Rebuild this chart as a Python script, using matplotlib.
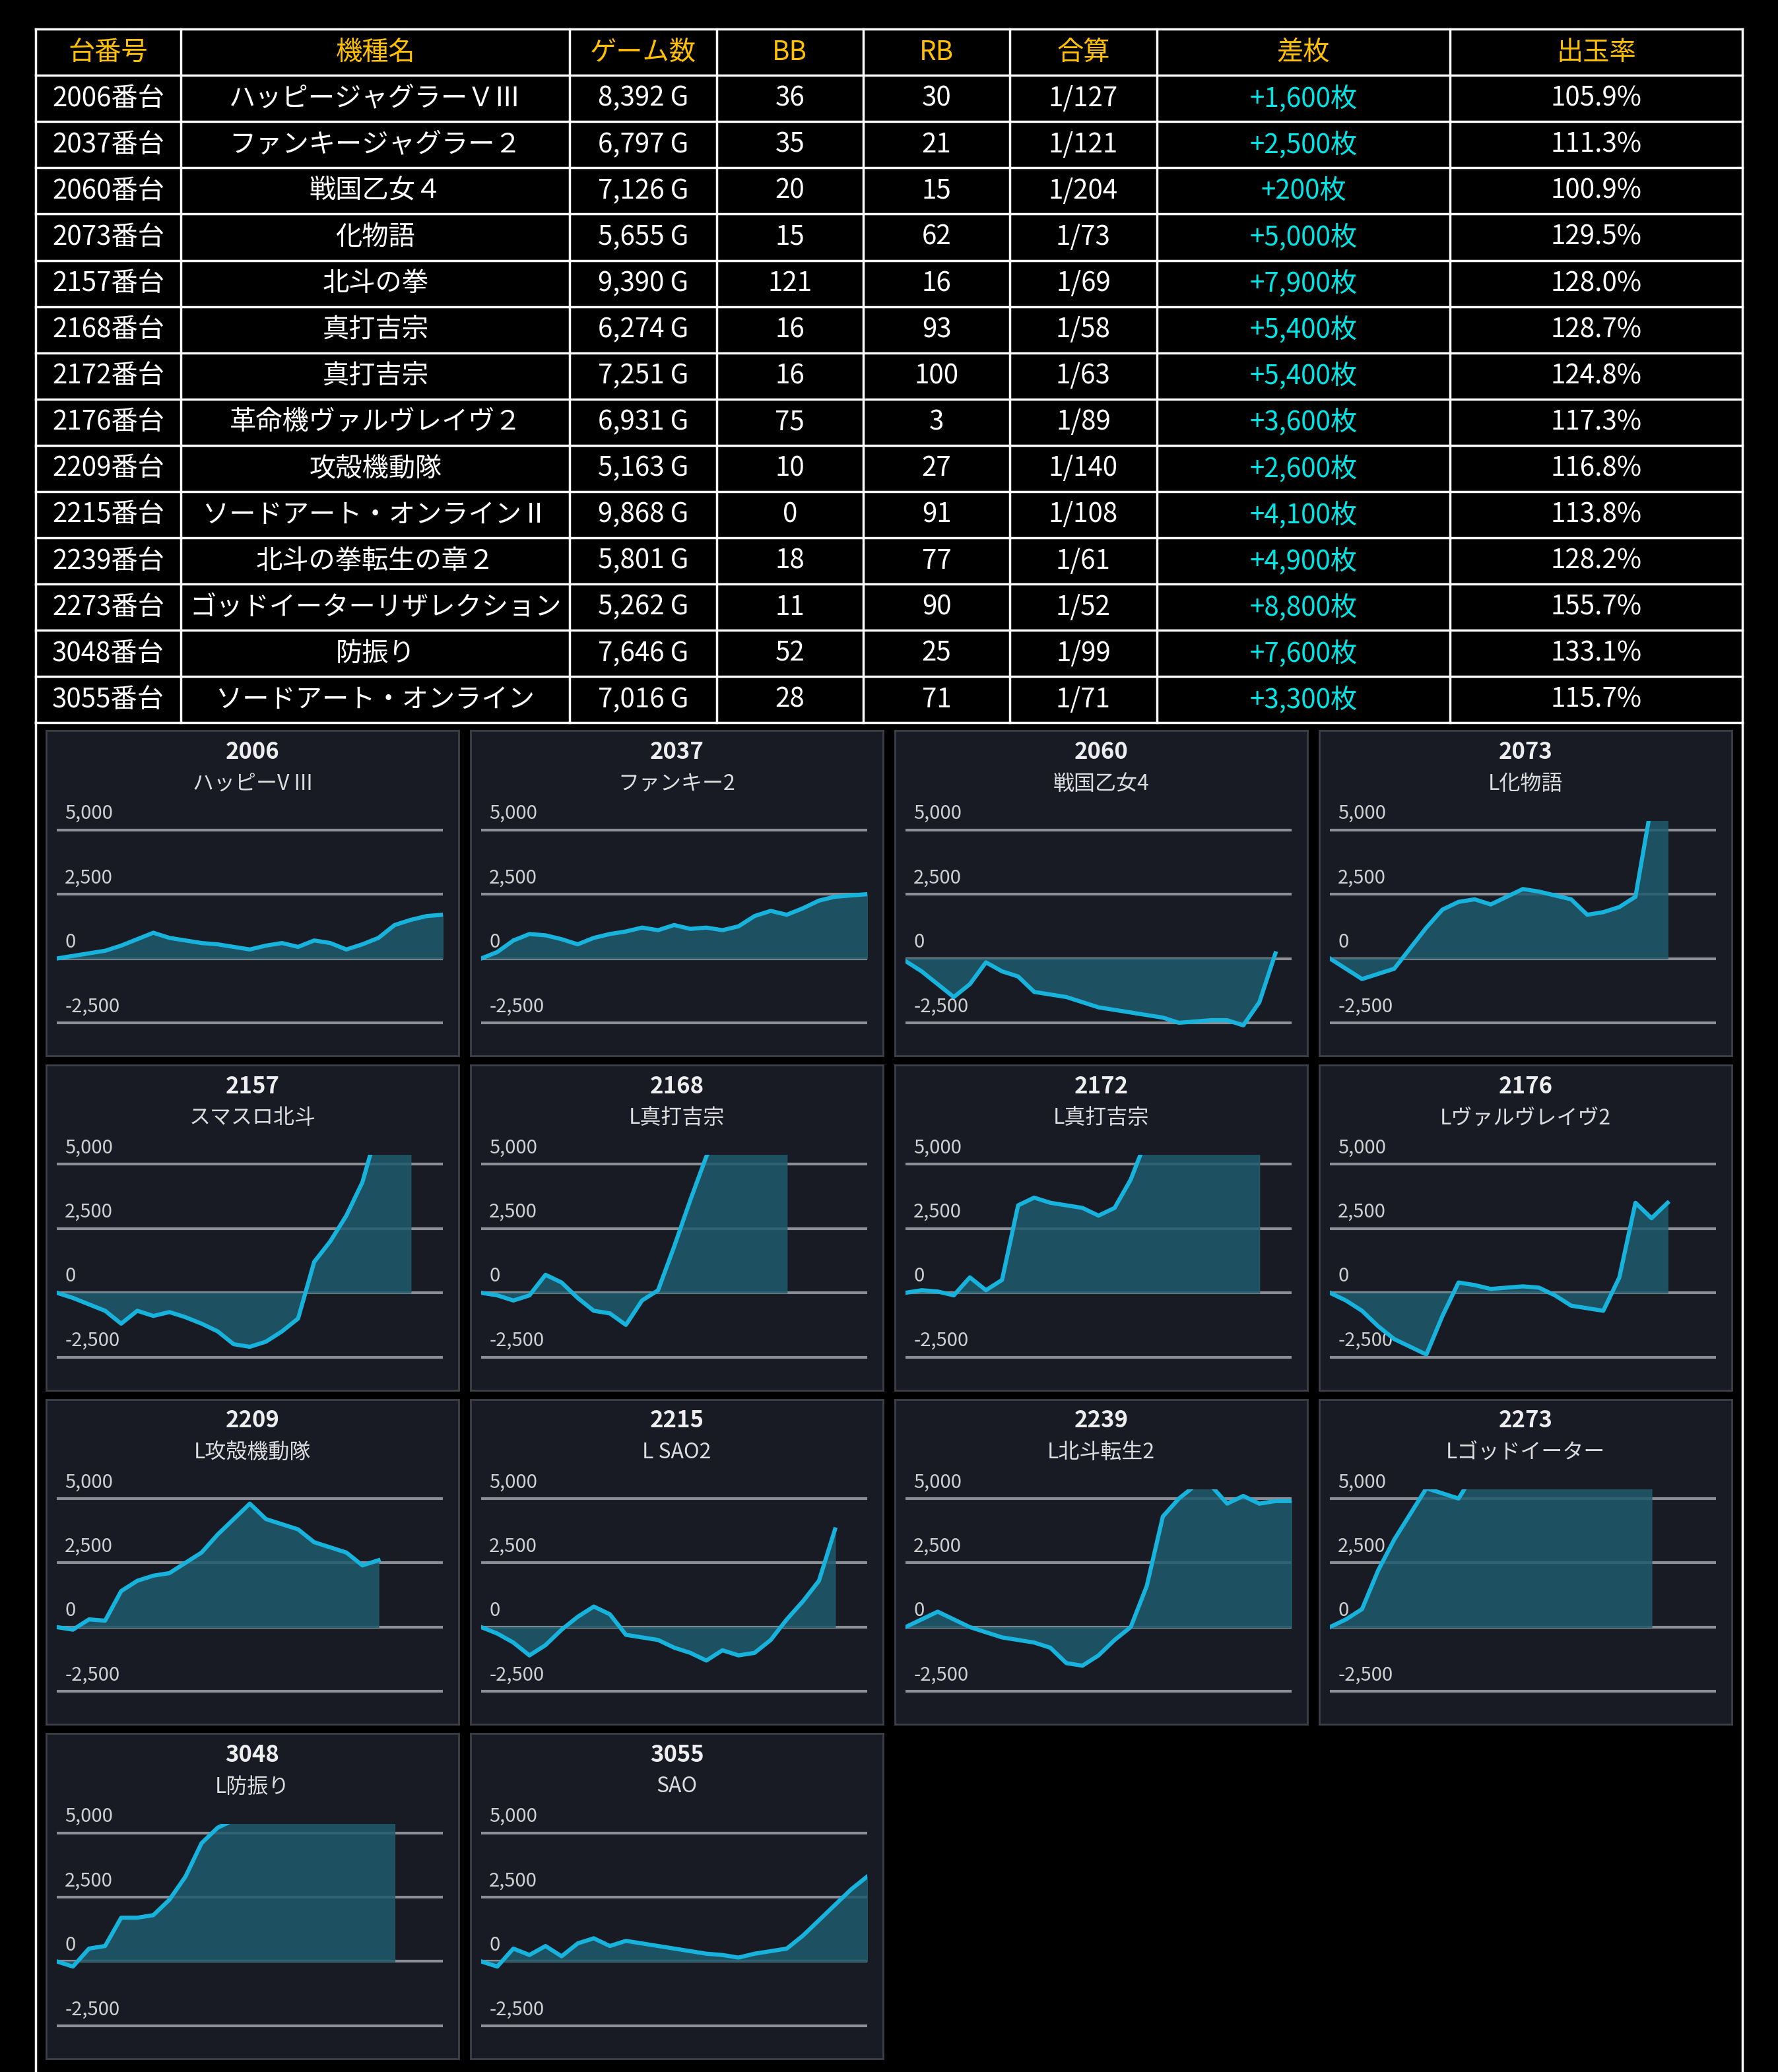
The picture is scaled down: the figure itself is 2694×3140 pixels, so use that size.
"""Slot machine daily result table and per-unit balance charts."""

import matplotlib

matplotlib.use("Agg")
import matplotlib.pyplot as plt  # noqa: E402

plt.rcParams["font.family"] = ["Noto Sans CJK JP", "DejaVu Sans"]

HEADERS = ["台番号", "機種名", "ゲーム数", "BB", "RB", "合算", "差枚", "出玉率"]
UNITS = ["2006", "2037", "2060", "2073", "2157", "2168", "2172", "2176",
         "2209", "2215", "2239", "2273", "3048", "3055"]
MACHINES = ["ハッピージャグラーＶⅢ", "ファンキージャグラー２", "戦国乙女４", "化物語",
            "北斗の拳", "真打吉宗", "真打吉宗", "革命機ヴァルヴレイヴ２", "攻殻機動隊",
            "ソードアート・オンラインⅡ", "北斗の拳転生の章２", "ゴッドイーターリザレクション",
            "防振り", "ソードアート・オンライン"]
GAMES = [8392, 6797, 7126, 5655, 9390, 6274, 7251, 6931, 5163, 9868, 5801, 5262, 7646, 7016]
BB = [36, 35, 20, 15, 121, 16, 16, 75, 10, 0, 18, 11, 52, 28]
RB = [30, 21, 15, 62, 16, 93, 100, 3, 27, 91, 77, 90, 25, 71]
COMBINED = ["1/127", "1/121", "1/204", "1/73", "1/69", "1/58", "1/63", "1/89",
            "1/140", "1/108", "1/61", "1/52", "1/99", "1/71"]
DIFF = [1600, 2500, 200, 5000, 7900, 5400, 5400, 3600, 2600, 4100, 4900, 8800, 7600, 3300]
RATE = [105.9, 111.3, 100.9, 129.5, 128.0, 128.7, 124.8, 117.3, 116.8, 113.8, 128.2,
        155.7, 133.1, 115.7]

SHORT_NAMES = ["ハッピーV III", "ファンキー2", "戦国乙女4", "L化物語", "スマスロ北斗",
               "L真打吉宗", "L真打吉宗", "Lヴァルヴレイヴ2", "L攻殻機動隊", "L SAO2",
               "L北斗転生2", "Lゴッドイーター", "L防振り", "SAO"]
SERIES = [
    [0, 100, 200, 300, 500, 750, 1000, 800, 700, 600, 550, 450, 350, 500, 600, 450,
     700, 600, 350, 550, 800, 1300, 1500, 1650, 1700],
    [0, 250, 700, 950, 900, 750, 550, 800, 950, 1050, 1200, 1100, 1300, 1150, 1200,
     1100, 1250, 1650, 1850, 1700, 1950, 2250, 2400, 2450, 2500],
    [-100, -500, -1000, -1500, -1000, -150, -500, -700, -1300, -1400, -1500, -1700,
     -1900, -2000, -2100, -2200, -2300, -2500, -2450, -2400, -2400, -2600, -1700, 200],
    [0, -400, -800, -600, -400, 400, 1200, 1900, 2200, 2300, 2100, 2400, 2700, 2600,
     2450, 2300, 1700, 1800, 2000, 2400, 6000, 6000],
    [0, -200, -450, -700, -1200, -700, -900, -750, -950, -1200, -1500, -2000, -2100,
     -1900, -1500, -1000, 1200, 2000, 3000, 4300, 6500, 6500, 6500],
    [0, -100, -300, -100, 700, 400, -200, -700, -800, -1250, -300, 100, 1800, 3600,
     5300, 6500, 6500, 6500, 6500, 6500],
    [0, 100, 50, -100, 600, 100, 500, 3400, 3700, 3500, 3400, 3300, 3000, 3300, 4400,
     6000, 6000, 6000, 6000, 6000, 6000, 6000, 6000],
    [0, -300, -700, -1300, -1800, -2100, -2400, -900, 400, 300, 150, 200, 250, 200,
     -100, -500, -600, -700, 600, 3500, 2900, 3500],
    [0, -100, 300, 250, 1400, 1800, 2000, 2100, 2500, 2900, 3600, 4200, 4800, 4200,
     4000, 3800, 3300, 3100, 2900, 2400, 2600],
    [0, -250, -600, -1100, -700, -100, 400, 800, 500, -300, -400, -500, -800, -1000,
     -1300, -900, -1100, -1000, -500, 300, 1000, 1800, 3800],
    [0, 300, 600, 300, 0, -200, -400, -500, -600, -800, -1400, -1500, -1100, -500, 0,
     1600, 4300, 5000, 5500, 5500, 4800, 5100, 4800, 4900, 4900],
    [0, 300, 700, 2200, 3400, 4400, 5400, 5200, 5000, 6000, 6000, 6000, 6000, 6000,
     6000, 6000, 6000, 6000, 6000, 6000, 6000],
    [0, -200, 500, 600, 1700, 1700, 1800, 2400, 3300, 4600, 5200, 5500, 6000, 6000,
     6000, 6000, 6000, 6000, 6000, 6000, 6000, 6000],
    [0, -200, 500, 250, 600, 200, 700, 900, 600, 800, 700, 600, 500, 400, 300, 250,
     150, 300, 400, 500, 1000, 1600, 2200, 2800, 3300],
]
TICKS = [5000, 2500, 0, -2500]

W, H = 1345, 1568  # layout units (half of output pixels)
COL_X = [27, 137, 431, 542, 653, 764, 875, 1097, 1318]
ROW_TOP, ROW_H = 22, 35


def draw_table(ax):
    """Draw the result table with white grid lines."""
    n = len(UNITS)
    bottom = ROW_TOP + ROW_H * (n + 1)
    for x in COL_X:
        ax.plot([x, x], [ROW_TOP, bottom], color="white", lw=2.5)
    for i in range(n + 2):
        y = ROW_TOP + ROW_H * i
        ax.plot([COL_X[0], COL_X[-1]], [y, y], color="white", lw=2.5)
    # outer frame continues around the chart area
    ax.plot([COL_X[0], COL_X[0]], [bottom, H], color="white", lw=2.5)
    ax.plot([COL_X[-1], COL_X[-1]], [bottom, H], color="white", lw=2.5)

    centers = [(a + b) / 2 for a, b in zip(COL_X[:-1], COL_X[1:])]
    for c, label in zip(centers, HEADERS):
        ax.text(c, ROW_TOP + ROW_H / 2, label, color="#ffc000", fontsize=29,
                ha="center", va="center")
    for i in range(n):
        y = ROW_TOP + ROW_H * (i + 1.5)
        cells = [f"{UNITS[i]}番台", MACHINES[i], f"{GAMES[i]:,} G", str(BB[i]),
                 str(RB[i]), COMBINED[i], f"+{DIFF[i]:,}枚", f"{RATE[i]:.1f}%"]
        for j, (c, txt) in enumerate(zip(centers, cells)):
            ax.text(c, y, txt, color="#00e5e5" if j == 6 else "white",
                    fontsize=29, ha="center", va="center")


def draw_panel(fig, left, top, unit, name, values):
    """Draw one balance chart card."""
    pw, ph = 312, 246
    card = fig.add_axes([left / W, 1 - (top + ph) / H, pw / W, ph / H])
    card.set_facecolor("#181b24")
    card.set_xticks([])
    card.set_yticks([])
    for s in card.spines.values():
        s.set_color("#3c3f47")
        s.set_linewidth(2)
    card.text(0.5, 1 - 16 / ph, unit, transform=card.transAxes, color="#eeeeee",
              fontsize=25, fontweight="bold", ha="center", va="center")
    card.text(0.5, 1 - 40 / ph, name, transform=card.transAxes, color="#dddddd",
              fontsize=23, ha="center", va="center")

    ax = fig.add_axes([(left + 8) / W, 1 - (top + 235) / H, 292 / W, 167 / H])
    ax.patch.set_alpha(0)
    ax.set_xlim(0, 24)
    ax.set_ylim(-3220, 5360)
    ax.axis("off")
    for t in TICKS:
        ax.axhline(t, color="#8b8e94", lw=3, zorder=1)
        ax.text(0.5, t + 250, f"{t:,}", color="#cfcfcf", fontsize=21,
                ha="left", va="bottom")
    xs = list(range(len(values)))
    ax.fill_between(xs, values, 0, color="#1f5b6c", alpha=0.85, zorder=2)
    ax.plot(xs, values, color="#17b3dc", lw=4.5, zorder=3)


fig = plt.figure(figsize=(26.94, 31.40), dpi=100, facecolor="black")
base = fig.add_axes([0, 0, 1, 1])
base.set_xlim(0, W)
base.set_ylim(H, 0)
base.axis("off")
base.set_facecolor("black")
draw_table(base)

for k, (unit, name, vals) in enumerate(zip(UNITS, SHORT_NAMES, SERIES)):
    row, col = divmod(k, 4)
    draw_panel(fig, 35 + 321 * col, 553 + 253 * row, unit, name, vals)

fig.savefig("out.png", dpi=100, facecolor="black")
plt.close(fig)
